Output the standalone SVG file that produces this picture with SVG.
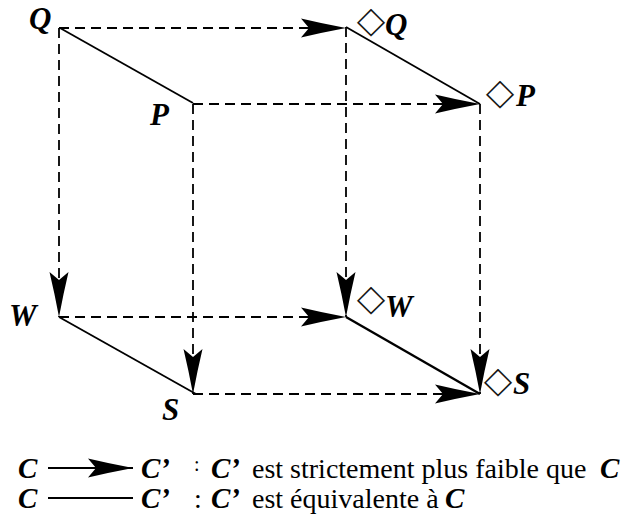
<svg xmlns="http://www.w3.org/2000/svg" width="629" height="523" viewBox="0 0 629 523">
<style>
.bg{fill:#fff}
.d{stroke:#000;stroke-width:1.8;stroke-dasharray:10 6;fill:none}
.s{stroke:#000;stroke-width:1.8;fill:none}
.lbl{font-family:"Liberation Serif","Times New Roman",serif;font-weight:bold;font-style:italic;font-size:31px;fill:#000}
.leg{font-size:29px}
.dia{font-family:"Noto Sans CJK JP","DejaVu Sans",sans-serif;font-weight:normal;font-style:normal;font-size:28px;fill:#000;stroke:#000;stroke-width:0.4}
.txt{font-family:"Liberation Serif","Times New Roman",serif;font-size:28px;fill:#000}
</style>
<defs>
<marker id="ah" markerUnits="userSpaceOnUse" orient="auto" refX="0" refY="0" markerWidth="50" markerHeight="22" viewBox="-46 -11 47 22" overflow="visible">
<path d="M0,0 Q-24,-4.5 -45,-9.5 L-37,0 L-45,9.5 Q-24,4.5 0,0 Z" fill="#000"/>
</marker>
</defs>
<rect class="bg" x="0" y="0" width="629" height="523"/>
<g id="connectors">
<line class="d" x1="59" y1="28" x2="346" y2="28" marker-end="url(#ah)"/>
<line class="d" x1="59" y1="28" x2="59" y2="317" marker-end="url(#ah)"/>
<line class="d" x1="193" y1="104" x2="480" y2="104" marker-end="url(#ah)"/>
<line class="d" x1="193" y1="104" x2="193" y2="394" marker-end="url(#ah)"/>
<line class="d" x1="346" y1="27" x2="346" y2="317" marker-end="url(#ah)"/>
<line class="d" x1="480" y1="104" x2="480" y2="394" marker-end="url(#ah)"/>
<line class="d" x1="59" y1="317" x2="346" y2="317" marker-end="url(#ah)"/>
<line class="d" x1="193" y1="394" x2="480" y2="394" marker-end="url(#ah)"/>
<line class="s" x1="60" y1="28" x2="193" y2="103"/>
<line class="s" x1="346" y1="27" x2="480" y2="104"/>
<line class="s" x1="59" y1="317" x2="196" y2="394"/>
<line class="s" x1="346" y1="317" x2="480" y2="394" style="stroke-width:2.4"/>
</g>
<g id="node-Q"><text class="lbl" x="29" y="29">Q</text></g>
<g id="node-P"><text class="lbl" x="150" y="125">P</text></g>
<g id="node-dQ"><text class="lbl"><tspan class="dia" x="357" y="34">◇</tspan><tspan x="385" y="35">Q</tspan></text></g>
<g id="node-dP"><text class="lbl"><tspan class="dia" x="486" y="106">◇</tspan><tspan x="516" y="106">P</tspan></text></g>
<g id="node-W"><text class="lbl" x="9" y="326">W</text></g>
<g id="node-dW"><text class="lbl"><tspan class="dia" x="357" y="312">◇</tspan><tspan x="385" y="317">W</tspan></text></g>
<g id="node-S"><text class="lbl" x="162" y="420">S</text></g>
<g id="node-dS"><text class="lbl"><tspan class="dia" x="484" y="394">◇</tspan><tspan x="513" y="394">S</tspan></text></g>
<g id="legend">
<text class="lbl leg" x="18" y="478">C</text>
<line class="s" x1="48" y1="468" x2="133" y2="468" marker-end="url(#ah)"/>
<text class="lbl leg" x="141" y="478">C’</text>
<text class="txt" x="194" y="471" style="font-size:20px">:</text>
<text class="lbl leg" x="211" y="478">C’</text>
<text class="txt" x="252" y="478">est strictement plus faible que</text>
<text class="lbl leg" x="600" y="478">C</text>
<text class="lbl leg" x="18" y="508">C</text>
<line class="s" x1="48" y1="498" x2="133" y2="498"/>
<text class="lbl leg" x="141" y="508">C’</text>
<text class="txt" x="194" y="508">:</text>
<text class="lbl leg" x="211" y="508">C’</text>
<text class="txt" x="252" y="508">est équivalente à</text>
<text class="lbl leg" x="445" y="508">C</text>
</g>
</svg>
